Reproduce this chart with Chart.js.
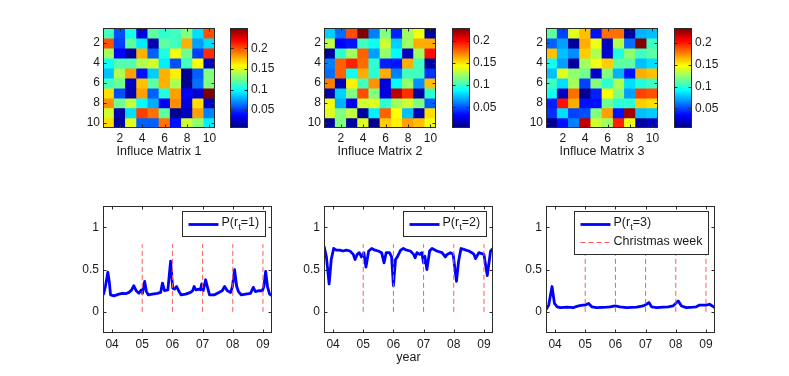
<!DOCTYPE html>
<html>
<head>
<meta charset="utf-8">
<script src="https://cdn.jsdelivr.net/npm/chart.js@4.4.0/dist/chart.umd.min.js"></script>
<style>
body { margin: 0; background: #fff; width: 789px; height: 376px; position: relative; overflow: hidden; }
canvas { position: absolute; }
</style>
</head>
<body>
<script>
// ---- heatmap data ----
var matrixTitles = ['Influce Matrix 1', 'Influce Matrix 2', 'Influce Matrix 3'];
var cellLabels = ['1', '2', '3', '4', '5', '6', '7', '8', '9', '10'];
var cellTicks = [2, 4, 6, 8, 10];
var colorTicks = [0.05, 0.1, 0.15, 0.2];
var colorLimits = [[0.007, 0.249], [0.004, 0.228], [0.006, 0.233]];

var matrix1 = [
  [0.113, 0.056, 0.103, 0.030, 0.120, 0.109, 0.113, 0.128, 0.090, 0.200],
  [0.200, 0.052, 0.120, 0.094, 0.018, 0.120, 0.113, 0.177, 0.075, 0.090],
  [0.136, 0.037, 0.015, 0.177, 0.060, 0.105, 0.155, 0.124, 0.052, 0.208],
  [0.101, 0.117, 0.117, 0.139, 0.147, 0.094, 0.056, 0.113, 0.158, 0.022],
  [0.083, 0.139, 0.181, 0.041, 0.086, 0.177, 0.162, 0.011, 0.060, 0.128],
  [0.113, 0.124, 0.022, 0.173, 0.120, 0.177, 0.139, 0.011, 0.064, 0.128],
  [0.166, 0.056, 0.018, 0.181, 0.060, 0.105, 0.181, 0.037, 0.026, 0.249],
  [0.185, 0.124, 0.143, 0.098, 0.079, 0.034, 0.185, 0.030, 0.166, 0.022],
  [0.147, 0.018, 0.090, 0.204, 0.192, 0.120, 0.011, 0.022, 0.181, 0.068],
  [0.166, 0.015, 0.151, 0.060, 0.060, 0.192, 0.041, 0.147, 0.132, 0.094]
];
var matrix2 = [
  [0.078, 0.056, 0.183, 0.228, 0.060, 0.116, 0.039, 0.123, 0.141, 0.011],
  [0.130, 0.032, 0.036, 0.102, 0.091, 0.133, 0.078, 0.123, 0.162, 0.162],
  [0.011, 0.098, 0.123, 0.179, 0.067, 0.120, 0.088, 0.018, 0.123, 0.197],
  [0.060, 0.179, 0.193, 0.176, 0.098, 0.039, 0.036, 0.162, 0.102, 0.011],
  [0.056, 0.179, 0.091, 0.162, 0.098, 0.162, 0.060, 0.102, 0.102, 0.043],
  [0.172, 0.015, 0.147, 0.102, 0.168, 0.025, 0.088, 0.120, 0.064, 0.158],
  [0.015, 0.078, 0.116, 0.183, 0.116, 0.025, 0.215, 0.190, 0.011, 0.098],
  [0.141, 0.071, 0.029, 0.133, 0.137, 0.098, 0.123, 0.133, 0.116, 0.053],
  [0.137, 0.116, 0.130, 0.011, 0.085, 0.179, 0.144, 0.074, 0.015, 0.151],
  [0.011, 0.116, 0.011, 0.137, 0.007, 0.155, 0.147, 0.165, 0.158, 0.141]
];
var matrix3 = [
  [0.112, 0.049, 0.141, 0.162, 0.038, 0.180, 0.180, 0.013, 0.074, 0.077],
  [0.056, 0.070, 0.013, 0.166, 0.144, 0.020, 0.130, 0.059, 0.233, 0.105],
  [0.162, 0.077, 0.066, 0.159, 0.130, 0.024, 0.098, 0.123, 0.105, 0.112],
  [0.095, 0.070, 0.013, 0.127, 0.144, 0.159, 0.112, 0.112, 0.077, 0.084],
  [0.077, 0.141, 0.123, 0.116, 0.024, 0.120, 0.074, 0.038, 0.166, 0.162],
  [0.105, 0.084, 0.127, 0.049, 0.120, 0.101, 0.130, 0.084, 0.098, 0.105],
  [0.095, 0.020, 0.180, 0.009, 0.041, 0.148, 0.120, 0.070, 0.190, 0.187],
  [0.041, 0.201, 0.166, 0.038, 0.038, 0.116, 0.101, 0.101, 0.159, 0.155],
  [0.045, 0.084, 0.049, 0.052, 0.120, 0.169, 0.038, 0.226, 0.077, 0.080],
  [0.009, 0.038, 0.063, 0.219, 0.137, 0.127, 0.198, 0.144, 0.013, 0.020]
];

// ---- time series data (x = years since 2000, Christmas week = whole number) ----
var yearTicks = [4, 5, 6, 7, 8, 9];
var yearLabels = ['04', '05', '06', '07', '08', '09'];
var christmasWeeks = [5, 6, 7, 8, 9];
var christmasTop = 0.8;
var probTicks = [0, 0.5, 1];
var xTitle = 'year';
var seriesNames = [['P(r', 't', '=1)'], ['P(r', 't', '=2)'], ['P(r', 't', '=3)']];
var christmasName = 'Christmas week';

var p1Years = [3.71, 3.78, 3.86, 3.91, 3.95, 4.06, 4.23, 4.34, 4.45, 4.56, 4.65, 4.72, 4.80, 4.89, 4.97, 5.01, 5.08, 5.14, 5.20, 5.33,
  5.50, 5.61, 5.67, 5.74, 5.85, 5.94, 6.01, 6.07, 6.14, 6.22, 6.29, 6.44, 6.60, 6.67, 6.72, 6.78, 6.88, 6.93, 6.97, 7.02,
  7.10, 7.17, 7.23, 7.38, 7.54, 7.65, 7.73, 7.82, 7.93, 7.99, 8.06, 8.13, 8.19, 8.28, 8.43, 8.59, 8.68, 8.75, 8.87, 8.98,
  9.03, 9.09, 9.15, 9.22, 9.31];
var p1Values = [0.20, 0.30, 0.47, 0.35, 0.20, 0.19, 0.21, 0.22, 0.215, 0.23, 0.26, 0.31, 0.25, 0.22, 0.26, 0.22, 0.36, 0.24, 0.20, 0.21,
  0.22, 0.23, 0.34, 0.25, 0.26, 0.60, 0.28, 0.27, 0.30, 0.24, 0.20, 0.21, 0.23, 0.25, 0.30, 0.26, 0.27, 0.26, 0.33, 0.25,
  0.38, 0.28, 0.20, 0.20, 0.23, 0.25, 0.30, 0.25, 0.23, 0.30, 0.50, 0.30, 0.24, 0.20, 0.21, 0.22, 0.29, 0.24, 0.25, 0.25,
  0.30, 0.48, 0.30, 0.21, 0.19];

var p2Years = [3.70, 3.78, 3.87, 3.94, 4.02, 4.11, 4.22, 4.33, 4.44, 4.56, 4.67, 4.73, 4.80, 4.87, 4.94, 5.02, 5.09, 5.18, 5.28, 5.39,
  5.50, 5.61, 5.69, 5.76, 5.87, 5.94, 6.00, 6.07, 6.13, 6.24, 6.33, 6.44, 6.56, 6.67, 6.72, 6.78, 6.87, 6.94, 7.00, 7.04,
  7.11, 7.20, 7.28, 7.44, 7.61, 7.72, 7.78, 7.89, 7.98, 8.09, 8.16, 8.24, 8.33, 8.50, 8.60, 8.67, 8.72, 8.83, 9.00, 9.11,
  9.22, 9.30];
var p2Values = [0.78, 0.65, 0.33, 0.62, 0.75, 0.73, 0.73, 0.72, 0.73, 0.72, 0.68, 0.62, 0.68, 0.70, 0.65, 0.70, 0.53, 0.72, 0.75, 0.73,
  0.72, 0.70, 0.58, 0.70, 0.70, 0.65, 0.31, 0.62, 0.65, 0.73, 0.75, 0.73, 0.72, 0.68, 0.64, 0.70, 0.68, 0.70, 0.58, 0.66,
  0.50, 0.72, 0.75, 0.72, 0.70, 0.65, 0.68, 0.70, 0.68, 0.36, 0.60, 0.75, 0.74, 0.72, 0.70, 0.68, 0.63, 0.70, 0.68, 0.43,
  0.72, 0.75];

var p3Years = [3.71, 3.79, 3.90, 3.98, 4.07, 4.18, 4.40, 4.62, 4.67, 4.78, 4.92, 5.00, 5.11, 5.22, 5.38, 5.71, 5.82, 5.99, 6.15, 6.37,
  6.70, 6.92, 7.03, 7.11, 7.20, 7.36, 7.58, 7.75, 7.91, 8.08, 8.19, 8.35, 8.57, 8.68, 8.79, 9.01, 9.12, 9.21, 9.29];
var p3Values = [0.03, 0.08, 0.30, 0.10, 0.06, 0.05, 0.055, 0.05, 0.06, 0.07, 0.08, 0.08, 0.10, 0.06, 0.05, 0.055, 0.06, 0.07, 0.06, 0.05,
  0.055, 0.07, 0.09, 0.11, 0.06, 0.05, 0.055, 0.06, 0.07, 0.13, 0.07, 0.05, 0.055, 0.06, 0.08, 0.08, 0.09, 0.07, 0.05];

// ---- helpers ----
Chart.defaults.font.family = "'Liberation Sans', Arial, Helvetica, sans-serif";
Chart.defaults.font.size = 12;
Chart.defaults.color = '#1a1a1a';
var FONT = "'Liberation Sans', Arial, Helvetica, sans-serif";

function clamp01(v) { return Math.max(0, Math.min(1, v)); }
function jetColor(f) {
  f = clamp01(f);
  var r = clamp01(Math.min(4 * f - 1.5, -4 * f + 4.5));
  var g = clamp01(Math.min(4 * f - 0.5, -4 * f + 3.5));
  var b = clamp01(Math.min(4 * f + 0.5, -4 * f + 2.5));
  return 'rgb(' + Math.round(r * 255) + ',' + Math.round(g * 255) + ',' + Math.round(b * 255) + ')';
}

function makeCanvas(left, top, w, h) {
  var c = document.createElement('canvas');
  c.width = w; c.height = h;
  c.style.left = left + 'px'; c.style.top = top + 'px';
  c.style.width = w + 'px'; c.style.height = h + 'px';
  document.body.appendChild(c);
  return c;
}

// box around the plot area with inward ticks, like matlab
var framePlugin = {
  id: 'frame',
  afterDatasetsDraw: function (chart) {
    var ctx = chart.ctx, a = chart.chartArea;
    var L = Math.round(a.left) + 0.5, R = Math.round(a.right) - 0.5;
    var T = Math.round(a.top) + 0.5, B = Math.round(a.bottom) - 0.5;
    ctx.save();
    ctx.strokeStyle = '#2b2b2b';
    ctx.lineWidth = 1;
    ctx.setLineDash([]);
    ctx.beginPath();
    Object.keys(chart.scales).forEach(function (k) {
      var s = chart.scales[k];
      if (s.options.display === false) return;
      s.ticks.forEach(function (t, i) {
        if (t.label === '' || t.label === undefined) return;
        var p = Math.round(s.getPixelForTick(i)) + 0.5;
        if (s.isHorizontal()) {
          ctx.moveTo(p, B); ctx.lineTo(p, B - 3);
          ctx.moveTo(p, T); ctx.lineTo(p, T + 3);
        } else {
          ctx.moveTo(L, p); ctx.lineTo(L + 3, p);
          ctx.moveTo(R, p); ctx.lineTo(R - 3, p);
        }
      });
    });
    ctx.stroke();
    ctx.strokeRect(L, T, R - L, B - T);
    ctx.restore();
  }
};

// matlab style legend box with subscript text
var boxLegend = {
  id: 'boxLegend',
  afterDraw: function (chart, args, opts) {
    if (!opts.entries) return;
    var ctx = chart.ctx, a = chart.chartArea;
    var main = '12.5px ' + FONT, sub = '9.5px ' + FONT;
    ctx.save();
    function partsWidth(parts) {
      var w = 0;
      parts.forEach(function (p, i) {
        ctx.font = (parts.length === 3 && i === 1) ? sub : main;
        w += ctx.measureText(p).width;
      });
      return w;
    }
    var maxW = 0;
    opts.entries.forEach(function (e) { maxW = Math.max(maxW, partsWidth(e.parts)); });
    var w = Math.round(6 + 30 + 3 + maxW + 6), h = 25 + 18 * (opts.entries.length - 1);
    var x0 = Math.round(a.right - 7 - w) + 0.5, y0 = Math.round(a.top + 5) + 0.5;
    ctx.fillStyle = '#fff';
    ctx.fillRect(x0, y0, w, h);
    ctx.strokeStyle = '#2b2b2b';
    ctx.lineWidth = 1;
    ctx.strokeRect(x0, y0, w, h);
    opts.entries.forEach(function (e, i) {
      var cy = y0 + 12.5 + 18 * i;
      ctx.beginPath();
      ctx.strokeStyle = e.color;
      ctx.lineWidth = e.width;
      ctx.setLineDash(e.dash);
      ctx.moveTo(x0 + 6, Math.round(cy) + 0.5);
      ctx.lineTo(x0 + 36, Math.round(cy) + 0.5);
      ctx.stroke();
      ctx.setLineDash([]);
      ctx.fillStyle = '#1a1a1a';
      ctx.textBaseline = 'middle';
      ctx.textAlign = 'left';
      var x = x0 + 39;
      e.parts.forEach(function (p, j) {
        var isSub = e.parts.length === 3 && j === 1;
        ctx.font = isSub ? sub : main;
        ctx.fillText(p, x, isSub ? cy + 3 : (e.parts.length === 3 ? cy - 1.5 : cy));
        x += ctx.measureText(p).width;
      });
    });
    ctx.restore();
  }
};

function heatmap(left, matrix, lim, title) {
  var canvas = makeCanvas(left - 30, 18, 152, 150);
  var datasets = matrix.map(function (row, r) {
    return {
      data: row.map(function () { return [r + 0.5, r + 1.5]; }),
      backgroundColor: row.map(function (v) { return jetColor((v - lim[0]) / (lim[1] - lim[0])); }),
      borderWidth: 0,
      barPercentage: 1,
      categoryPercentage: 1,
      grouped: false
    };
  });
  return new Chart(canvas, {
    type: 'bar',
    data: { labels: cellLabels, datasets: datasets },
    options: {
      responsive: false, animation: false, events: [], devicePixelRatio: 1,
      layout: { padding: { top: 10, right: 10, left: 0, bottom: 0 } },
      plugins: { legend: { display: false }, tooltip: { enabled: false } },
      scales: {
        x: {
          type: 'category',
          grid: { display: false, drawTicks: false }, border: { display: false },
          ticks: { padding: 3, autoSkip: false, maxRotation: 0,
            callback: function (v, i) { return cellTicks.indexOf(i + 1) >= 0 ? cellLabels[i] : ''; } },
          title: { display: true, text: title, font: { size: 12.5 }, padding: { top: 0, bottom: 8.5 }, color: '#1a1a1a' },
          afterFit: function (s) { s.height = 40; }
        },
        y: {
          type: 'linear', reverse: true, min: 0.5, max: 10.5,
          grid: { display: false, drawTicks: false }, border: { display: false },
          afterBuildTicks: function (s) { s.ticks = cellTicks.map(function (v) { return { value: v }; }); },
          ticks: { padding: 3, callback: function (v) { return String(v); } },
          afterFit: function (s) { s.width = 30; }
        }
      }
    },
    plugins: [framePlugin]
  });
}

function colorbar(left, lim) {
  var canvas = makeCanvas(left, 18, 58, 120);
  return new Chart(canvas, {
    type: 'bar',
    data: {
      labels: [''],
      datasets: [{
        data: [[lim[0], lim[1]]],
        backgroundColor: function (c) {
          var a = c.chart.chartArea;
          if (!a) return 'transparent';
          var g = c.chart.ctx.createLinearGradient(0, a.bottom, 0, a.top);
          g.addColorStop(0, jetColor(0));
          g.addColorStop(0.125, jetColor(0.125));
          g.addColorStop(0.375, jetColor(0.375));
          g.addColorStop(0.625, jetColor(0.625));
          g.addColorStop(0.875, jetColor(0.875));
          g.addColorStop(1, jetColor(1));
          return g;
        },
        borderWidth: 0, barPercentage: 1, categoryPercentage: 1
      }]
    },
    options: {
      responsive: false, animation: false, events: [], devicePixelRatio: 1,
      layout: { padding: { top: 10, bottom: 10, left: 0, right: 0 } },
      plugins: { legend: { display: false }, tooltip: { enabled: false } },
      scales: {
        x: { display: false },
        y: {
          position: 'right', min: lim[0], max: lim[1],
          grid: { display: false, drawTicks: false }, border: { display: false },
          afterBuildTicks: function (s) { s.ticks = colorTicks.map(function (v) { return { value: v }; }); },
          ticks: { padding: 3, callback: function (v) { return String(v); } },
          afterFit: function (s) { s.width = 40; }
        }
      }
    },
    plugins: [framePlugin]
  });
}

function probChart(left, years, values, name, withXmas, title) {
  var canvas = makeCanvas(left - 40, 195, 221, 178);
  var datasets = christmasWeeks.map(function (x) {
    return { data: [{ x: x, y: 0 }, { x: x, y: christmasTop }], borderColor: '#ff5a5a', borderWidth: 1,
      borderDash: [5, 3], pointRadius: 0 };
  });
  datasets.push({
    data: years.map(function (x, i) { return { x: x, y: values[i] }; }),
    borderColor: '#0000ff', borderWidth: 2.8, pointRadius: 0, tension: 0, borderJoinStyle: 'round'
  });
  var entries = [{ parts: name, color: '#0000ff', width: 2.8, dash: [] }];
  if (withXmas) entries.push({ parts: [christmasName], color: '#ff5a5a', width: 1, dash: [5, 3] });
  return new Chart(canvas, {
    type: 'line',
    data: { datasets: datasets },
    options: {
      responsive: false, animation: false, events: [], devicePixelRatio: 1,
      layout: { padding: { top: 10, right: 12, left: 0, bottom: 0 } },
      plugins: { legend: { display: false }, tooltip: { enabled: false }, boxLegend: { entries: entries } },
      scales: {
        x: {
          type: 'linear', min: 3.7, max: 9.3,
          grid: { display: false, drawTicks: false }, border: { display: false },
          afterBuildTicks: function (s) { s.ticks = yearTicks.map(function (v) { return { value: v }; }); },
          ticks: { padding: 4, autoSkip: false, maxRotation: 0,
            callback: function (v) { return yearLabels[yearTicks.indexOf(v)]; } },
          title: { display: !!title, text: title || '', font: { size: 12.5 }, padding: { top: 0, bottom: 7.5 }, color: '#1a1a1a' },
          afterFit: function (s) { s.height = 40; }
        },
        y: {
          min: -0.25, max: 1.25,
          grid: { display: false, drawTicks: false }, border: { display: false },
          afterBuildTicks: function (s) { s.ticks = probTicks.map(function (v) { return { value: v }; }); },
          ticks: { padding: 4, callback: function (v) { return String(v); } },
          afterFit: function (s) { s.width = 40; }
        }
      }
    },
    plugins: [framePlugin, boxLegend]
  });
}

heatmap(103, matrix1, colorLimits[0], matrixTitles[0]);
heatmap(324, matrix2, colorLimits[1], matrixTitles[1]);
heatmap(546, matrix3, colorLimits[2], matrixTitles[2]);
colorbar(230, colorLimits[0]);
colorbar(452, colorLimits[1]);
colorbar(674, colorLimits[2]);
probChart(103, p1Years, p1Values, seriesNames[0], false, '');
probChart(324, p2Years, p2Values, seriesNames[1], false, xTitle);
probChart(546, p3Years, p3Values, seriesNames[2], true, '');
</script>
</body>
</html>
